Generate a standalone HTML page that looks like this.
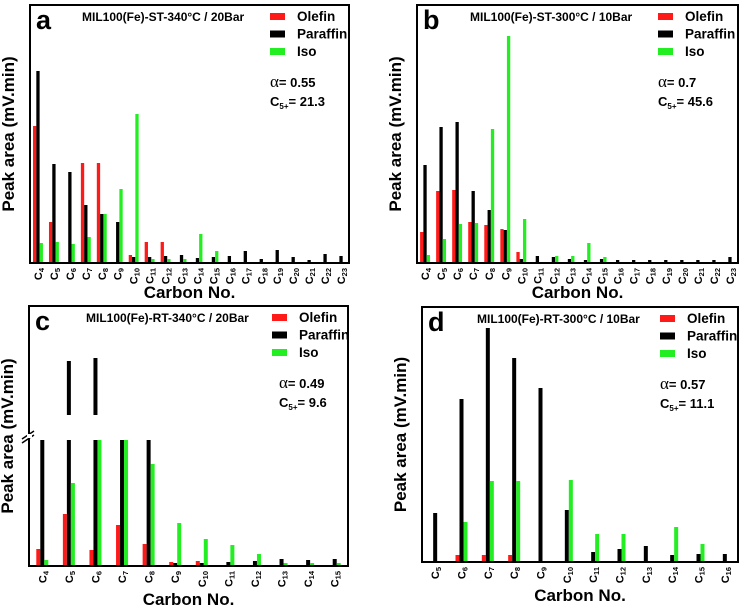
<!DOCTYPE html>
<html><head><meta charset="utf-8"><style>
body{margin:0;background:#fff;}
svg{display:block;font-family:"Liberation Sans",sans-serif;}
</style></head><body>
<svg id="fig" width="741" height="614" viewBox="0 0 741 614"></svg>
<script>
// Panel a data (heights in plot units)
const catsA = ["4","5","6","7","8","9","10","11","12","13","14","15","16","17","18","19","20","21","22","23"];
const oleA = [137,41,0,100,100,0,8,21,21,0,0,0,0,0,0,0,0,0,0,0];
const parA = [192,99,91,58,49,41,6,6,7,8,5,6,7,12,4,13,6,3,9,7];
const isoA = [20,21,19,26,49,74,149,4,4,4,29,12,0,0,0,0,0,0,0,0];
// Panel b
const catsB = ["4","5","6","7","8","9","10","11","12","13","14","15","16","17","18","19","20","21","22","23"];
const oleB = [31,72,73,41,38,34,11,0,0,0,0,0,0,0,0,0,0,0,0,0];
const parB = [98,136,141,72,53,33,4,7,6,4,3,4,3,3,3,3,3,3,3,6];
const isoB = [8,24,39,40,134,227,44,0,7,7,20,6,0,0,0,0,0,0,0,0];
// Panel c (broken axis)
const catsC = ["4","5","6","7","8","9","10","11","12","13","14","15"];
const oleC = [17,52,16,41,22,4,5,0,0,0,0,0];
const parC = [140,204,207,140,140,3,3,4,5,7,6,7];
const isoC = [6,83,130,130,102,43,27,21,12,3,3,3];
// Panel d
const catsD = ["5","6","7","8","9","10","11","12","13","14","15","16"];
const oleD = [0,7,7,7,0,0,0,0,0,0,0,0];
const parD = [49,163,234,204,174,52,10,13,16,7,8,8];
const isoD = [0,40,81,81,0,82,28,28,0,35,18,0];
const legendLabels = ["Olefin","Paraffin","Iso"];
const colors = ["#ff1a1a","#000000","#22ee22"];

const NS="http://www.w3.org/2000/svg";
const svg=document.getElementById('fig');
function mk(tag,attrs,parent){const e=document.createElementNS(NS,tag);for(const k in attrs)e.setAttribute(k,attrs[k]);(parent||svg).appendChild(e);return e;}

const panels=[
 {id:'a',L:30,R:349,T:5,B:263,cats:catsA,s:[oleA,parA,isoA],bw:3.3,letter:'a',title:'MIL100(Fe)-ST-340°C / 20Bar',tx:82,lx:270,ax:270,alpha:'0.55',c5:'21.3'},
 {id:'b',L:417,R:738,T:5,B:263,cats:catsB,s:[oleB,parB,isoB],bw:3.3,letter:'b',title:'MIL100(Fe)-ST-300°C / 10Bar',tx:470,lx:658,ax:658,alpha:'0.7',c5:'45.6'},
 {id:'c',L:29,R:348,T:306,B:566,cats:catsC,s:[oleC,parC,isoC],bw:4,letter:'c',title:'MIL100(Fe)-RT-340°C / 20Bar',tx:86,lx:272,ax:279,alpha:'0.49',c5:'9.6',brk:true},
 {id:'d',L:422,R:738,T:307,B:562,cats:catsD,s:[oleD,parD,isoD],bw:4,letter:'d',title:'MIL100(Fe)-RT-300°C / 10Bar',tx:477,lx:660,ax:660,alpha:'0.57',c5:'11.1'}
];

panels.forEach(p=>{
 const g=mk('g',{});
 
 
 const n=p.cats.length, band=(p.R-p.L)/n;
 const xc=i=>p.L+band*(i+0.5);
 const yv=v=>p.B-v;
 p.s.forEach((arr,si)=>{
  arr.forEach((v,i)=>{
   if(!v)return;
   const x=xc(i)+(si-1)*p.bw-p.bw/2;
   if(p.brk){
     const low=Math.min(v,126);
     const r=mk('rect',{x:x,y:yv(low),width:p.bw,height:low,fill:colors[si]},g);
     
     
     if(v>150){
       const r2=mk('rect',{x:x,y:415-(v-150),width:p.bw,height:v-150,fill:colors[si]},g);
       
       
     }
   } else {
     const r=mk('rect',{x:x,y:yv(v),width:p.bw,height:v,fill:colors[si]},g);
     
     
   }
  });
 });
 const fr=mk('rect',{x:p.L,y:p.T,width:p.R-p.L,height:p.B-p.T,fill:'none',stroke:'#000','stroke-width':2},g);
 
 
 if(p.brk){
   const bk=mk('path',{d:'M22,439 L34,431 M22,443 L34,435',stroke:'#000','stroke-width':1.5,fill:'none'},g);
   
   
   mk('rect',{x:27,y:434,width:5,height:4,fill:'#fff'},g);
 }
 p.cats.forEach((c,i)=>{
  const t=mk('text',{transform:`translate(${xc(i)+4},${p.B+5}) rotate(-90)`,'text-anchor':'end','font-size':11,'font-weight':'bold'},g);
  
  
  t.innerHTML='C<tspan font-size="7.5" dy="2">'+c+'</tspan>';
 });
 const xt=mk('text',{x:(p.L+p.R)/2,y:p.B+(p.id==='a'||p.id==='b'?35:39),'text-anchor':'middle','font-size':17,'font-weight':'bold'},g);
 xt.textContent='Carbon No.';
 
 
 const yt=mk('text',{transform:`translate(${p.L-16},${(p.T+p.B)/2}) rotate(-90)`,'text-anchor':'middle','font-size':17,'font-weight':'bold'},g);
 yt.textContent='Peak area (mV.min)';
 
 
 const lt=mk('text',{x:p.L+6,y:p.T+24,'font-size':27,'font-weight':'bold'},g);
 lt.textContent=p.letter;
 
 
 const tt=mk('text',{x:p.tx,y:p.T+16,'font-size':12,'font-weight':'bold'},g);
 tt.textContent=p.title;
 
 
 legendLabels.forEach((lab,k)=>{
  const sw=mk('rect',{x:p.lx,y:p.T+8+k*17.5,width:15,height:7,fill:colors[k]},g);
  
  
  const lt2=mk('text',{x:p.lx+27,y:p.T+16+k*17.5,'font-size':13.5,'font-weight':'bold'},g);
  lt2.textContent=lab;
  
  
 });
 const at=mk('text',{x:p.ax,y:p.T+82,'font-size':13,'font-weight':'bold'},g);
 at.innerHTML='<tspan font-size="17" font-weight="normal" font-family="Liberation Serif,serif">α</tspan>= '+p.alpha;
 
 
 const ct=mk('text',{x:p.ax,y:p.T+101,'font-size':13,'font-weight':'bold'},g);
 ct.innerHTML='C<tspan font-size="8" dy="3">5+</tspan><tspan dy="-3">= '+p.c5+'</tspan>';
 
 
});
</script>
</body></html>
